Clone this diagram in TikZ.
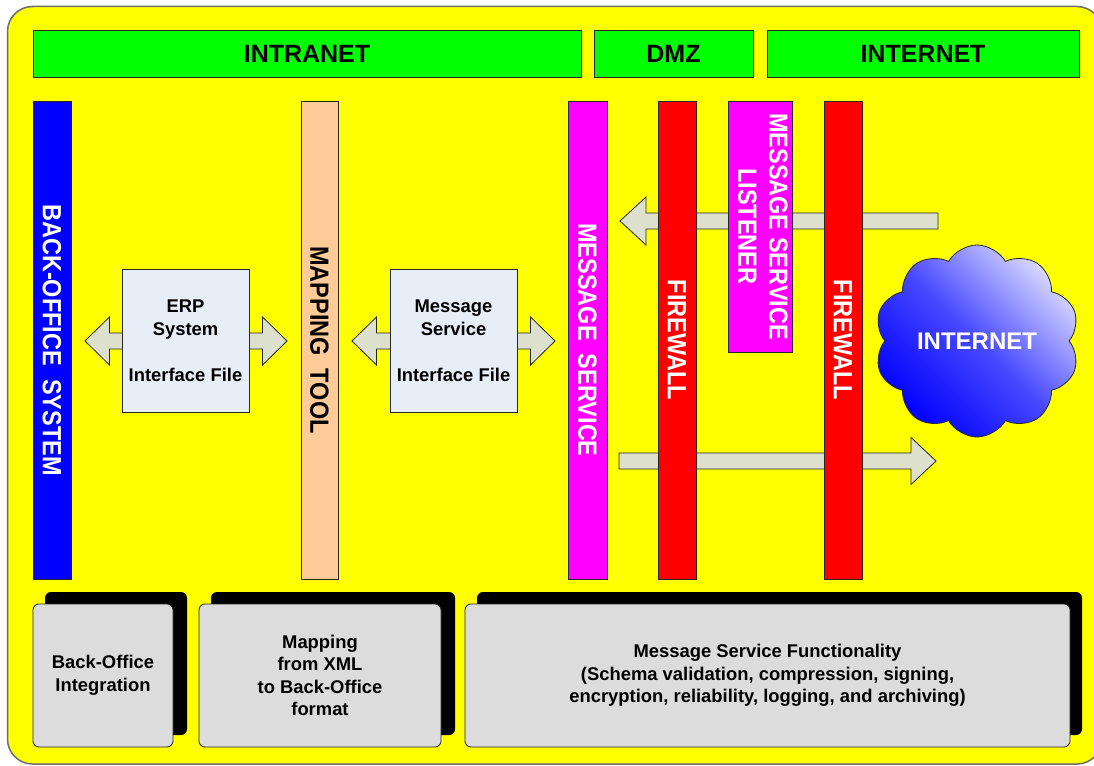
\documentclass[tikz,border=0pt]{standalone}
\usepackage{fontspec}
\setmainfont{Liberation Sans}
\usetikzlibrary{shapes.symbols}
\definecolor{ylw}{HTML}{FFFF00}
\definecolor{hgreen}{HTML}{00FF00}
\definecolor{peach}{HTML}{FFCC99}
\definecolor{mgnt}{HTML}{FF00FF}
\definecolor{rd}{HTML}{FF0000}
\definecolor{bl}{HTML}{0000FF}
\definecolor{cardfill}{HTML}{E8EEF8}
\definecolor{arrowfill}{HTML}{DDE0CC}
\definecolor{boxgrey}{HTML}{DCDCDC}
\definecolor{outline}{HTML}{6E6E6E}
\definecolor{cloudlight}{HTML}{D8D8FF}
\definecolor{cloudmid}{HTML}{4848FF}
\begin{document}
\begin{tikzpicture}[x=1pt,y=-1pt, line join=miter,
 edge/.style={draw=black!85, line width=0.8pt},
 hdr/.style={edge, fill=hgreen, inner sep=0pt, minimum height=47pt, font=\fontsize{25}{30}\selectfont\bfseries},
 bar/.style={edge, inner sep=0pt, minimum width=38pt, minimum height=478pt, font=\fontsize{23.5}{31}\selectfont\bfseries},
 card/.style={edge, fill=cardfill, inner sep=0pt, minimum width=127pt, minimum height=143pt, align=center, font=\fontsize{18.4}{23}\selectfont\bfseries},
 barrow/.style={edge, fill=arrowfill},
 infobox/.style={edge, fill=boxgrey, rounded corners=6pt, inner sep=0pt, align=center, minimum height=143pt, font=\fontsize{18.4}{22.5}\selectfont\bfseries},
 shadowbox/.style={fill=black, rounded corners=6pt},
]
\clip (0,0) rectangle (1094,765);
\fill[white] (0,0) rectangle (1094,765);
% outer frame
\draw[draw=outline, line width=1.5pt, fill=ylw, rounded corners=25pt] (7.5,6.5) rectangle (1102,764);
% headers
\node[hdr, minimum width=548pt] (intranet) at (307,53.5) {INTRANET};
\node[hdr, minimum width=159pt] (dmz) at (673.5,53.5) {DMZ};
\node[hdr, minimum width=312pt] (internethdr) at (923,53.5) {INTERNET};
% block arrows (behind bars and cards)
\draw[barrow] (85,341) -- (109.5,317) -- (109.5,333) -- (262.5,333) -- (262.5,317) -- (287,341)
  -- (262.5,365) -- (262.5,349) -- (109.5,349) -- (109.5,365) -- cycle;
\draw[barrow] (352,341) -- (376.5,317) -- (376.5,333) -- (530.5,333) -- (530.5,317) -- (555,341)
  -- (530.5,365) -- (530.5,349) -- (376.5,349) -- (376.5,365) -- cycle;
\draw[barrow] (620,221) -- (646,197) -- (646,213) -- (938,213) -- (938,229) -- (646,229) -- (646,245) -- cycle;
\draw[barrow] (936,461) -- (911,437.5) -- (911,453) -- (619,453) -- (619,469) -- (911,469) -- (911,484.5) -- cycle;
% vertical bars
\node[bar, fill=bl, text=white] (bos) at (52,340) {\rotatebox{-90}{\scalebox{1}[1.12]{BACK-OFFICE\ \ SYSTEM}}};
\node[bar, fill=peach, text=black, minimum width=37pt] (map) at (319.5,340) {\rotatebox{-90}{\scalebox{1}[1.12]{MAPPING\ \ TOOL}}};
\node[bar, fill=mgnt, text=white, minimum width=39pt] (ms) at (587.5,340) {\rotatebox{-90}{\scalebox{1}[1.12]{MESSAGE\ \ SERVICE}}};
\node[bar, fill=rd, text=white] (fw1) at (677,340) {\rotatebox{-90}{\scalebox{1}[1.12]{FIREWALL}}};
\node[bar, fill=mgnt, text=white, minimum width=64pt, minimum height=251pt] (listener) at (760,226.5)
  {\rotatebox{-90}{\scalebox{1}[1.12]{\fontsize{23.5}{27.5}\selectfont\begin{tabular}{@{}c@{}}MESSAGE SERVICE\\LISTENER\end{tabular}}}};
\node[bar, fill=rd, text=white] (fw2) at (843,340) {\rotatebox{-90}{\scalebox{1}[1.12]{FIREWALL}}};
% interface cards
\node[card] (erp) at (185.5,340.5) {ERP\\System\\[23pt]Interface File};
\node[card] (msif) at (453.5,340.5) {Message\\Service\\[23pt]Interface File};
% cloud
\node[cloud, cloud puffs=10, cloud puff arc=120, cloud ignores aspect, draw=black!85, line width=0.8pt,
  minimum width=205pt, minimum height=192pt, inner sep=0pt,
  top color=cloudlight, bottom color=bl, middle color=cloudmid, shading angle=-45,
  text=white, font=\fontsize{24}{28}\selectfont\bfseries] (cloud) at (977,341) {INTERNET};
% bottom boxes
\fill[shadowbox] (45,592) rectangle (187,735);
\node[infobox, minimum width=140pt] (boi) at (103,675.5) {Back-Office\\Integration};
\fill[shadowbox] (211,592) rectangle (455,735);
\node[infobox, minimum width=242pt] (mapx) at (320,675.5) {Mapping\\from XML\\to Back-Office\\format};
\fill[shadowbox] (477,592) rectangle (1082,735);
\node[infobox, minimum width=605pt] (msf) at (767.5,675.5) {Message Service Functionality\\(Schema validation, compression, signing,\\encryption, reliability, logging, and archiving)};
\end{tikzpicture}
\end{document}
